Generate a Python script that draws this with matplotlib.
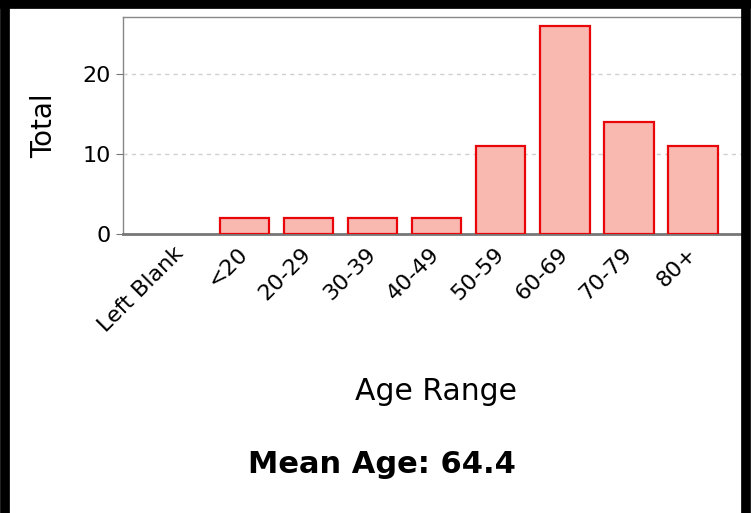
"""Age range histogram with mean age caption."""
import numpy as np
from matplotlib import pyplot as plt
from matplotlib.lines import Line2D

categories = ["Left Blank", "<20", "20-29", "30-39", "40-49",
              "50-59", "60-69", "70-79", "80+"]
totals = [0, 2, 2, 2, 2, 11, 26, 14, 11]
y_ticks = [0, 10, 20]
mean_age = 64.4

fig = plt.figure(figsize=(7.51, 5.13), dpi=100)
ax = fig.add_axes([0.1638, 0.5439, 0.83, 0.4230])

x = np.arange(len(categories))
# empty bars get no outline
widths = [1.6 if t > 0 else 0 for t in totals]
ax.bar(x, totals, width=0.77, color="#f9b9b1", edgecolor="#e8060b",
       linewidth=widths, zorder=3)

ax.set_xlim(-0.89, 8.83)
ax.set_ylim(0, 27.1)
ax.set_yticks(y_ticks)
ax.set_xticks(x)
ax.set_xticklabels(categories, rotation=45, ha="right", va="center",
                   rotation_mode="anchor", fontsize=16)
ax.tick_params(axis="x", length=0, pad=12)
ax.tick_params(axis="y", labelsize=16, length=5, color="#777777")
ax.grid(axis="y", color="#d0d0d0", linestyle=(0, (3, 3)), linewidth=1, zorder=0)

for side in ["top", "left"]:
    ax.spines[side].set_color("#888888")
    ax.spines[side].set_linewidth(1)
ax.spines["bottom"].set_color("#777777")
ax.spines["bottom"].set_linewidth(2)
ax.spines["right"].set_visible(False)

ax.set_ylabel("Total", fontsize=20, labelpad=18)
fig.text(0.581, 0.236, "Age Range", fontsize=21.5, ha="center", va="center")
fig.text(0.508, 0.094, f"Mean Age: {mean_age}", fontsize=22,
         fontweight="bold", ha="center", va="center")

# thick black frame (no bottom edge)
for xs, ys in [([0.006, 0.006], [0, 1]), ([0, 1], [0.992, 0.992]),
               ([0.994, 0.994], [0, 1])]:
    fig.add_artist(Line2D(xs, ys, color="black", linewidth=7,
                          transform=fig.transFigure))

fig.savefig("out.png", dpi=100)
